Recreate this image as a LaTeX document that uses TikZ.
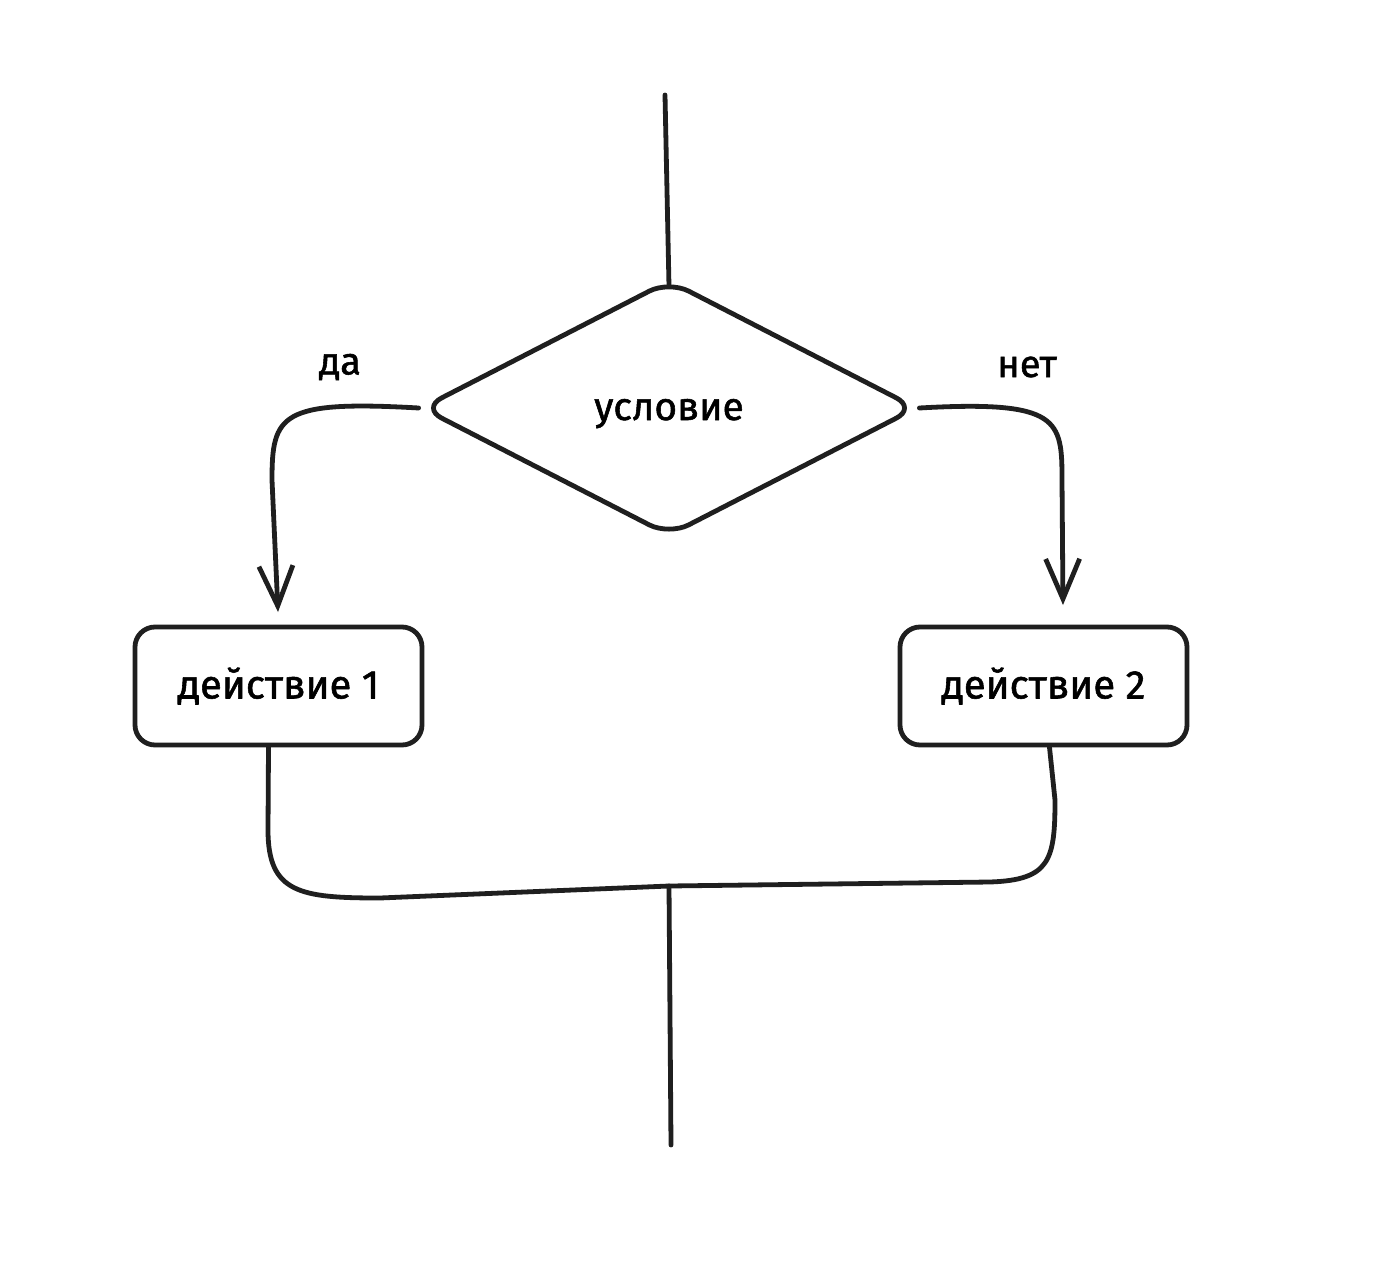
\documentclass[tikz,border=0pt]{standalone}
\usepackage{fontspec}
\setmainfont{Fira Sans}[FakeBold=1.4]
\usetikzlibrary{shapes.geometric,arrows.meta}
\begin{document}
\begin{tikzpicture}[x=1pt,y=-1pt,
  stroke/.style={line width=4.8pt,line cap=round,line join=round,draw=black!88},
  actbox/.style={stroke,rectangle,rounded corners=20pt,minimum width=287pt,minimum height=118pt,inner sep=0pt,font=\fontsize{40}{44}\selectfont},
  cond/.style={stroke,diamond,rounded corners=22pt,minimum width=496pt,minimum height=256pt,inner sep=0pt,text height=24pt,text depth=0pt,font=\fontsize{39}{44}\selectfont},
  lbl/.style={font=\fontsize{38}{42}\selectfont,inner sep=0pt},
  arr/.style={stroke,-{Straight Barb[length=40pt,width=34pt,line width=4.8pt]}}]
\useasboundingbox[fill=white] (0,0) rectangle (1376,1266);
\node[cond] (c) at (669,408) {условие};
\node[actbox] (a1) at (278.5,686) {действие 1};
\node[actbox] (a2) at (1043.5,686) {действие 2};
\coordinate (top) at (665,95);
\coordinate (bot) at (671,1145);
\coordinate (mid) at (669,886);
\node[lbl] (da) at (340,367) {да};
\node[lbl] (net) at (1027,367) {нет};
\draw[stroke] (top) -- ([yshift=-9pt]c.north);
\draw[arr] (c.west) .. controls (280,400) and (272,415) .. (272,480) -- (278,612);
\draw[arr] (c.east) .. controls (1060,400) and (1062,420) .. (1062,480) -- (1063,605);
\draw[stroke] ([xshift=-10pt]a1.south) -- (268,830) .. controls (268,893) and (300,898) .. (380,898) -- (mid) -- (990,882) .. controls (1050,880) and (1055,860) .. (1055,800) -- ([xshift=6pt]a2.south);
\draw[stroke] (mid) -- (bot);
\end{tikzpicture}
\end{document}
